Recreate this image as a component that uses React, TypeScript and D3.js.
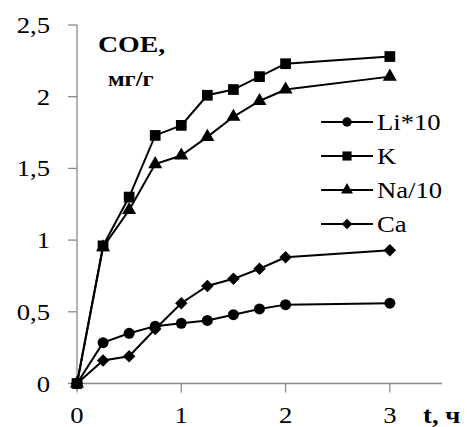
import React from "react";
import * as d3 from "d3";

const times = [0, 0.25, 0.5, 0.75, 1, 1.25, 1.5, 1.75, 2, 3];
const liValues = [0, 0.285, 0.35, 0.4, 0.42, 0.44, 0.48, 0.52, 0.55, 0.56];
const kValues = [0, 0.96, 1.3, 1.73, 1.8, 2.01, 2.05, 2.14, 2.23, 2.28];
const naValues = [0, 0.95, 1.21, 1.53, 1.59, 1.72, 1.86, 1.97, 2.05, 2.14];
const caValues = [0, 0.16, 0.19, 0.38, 0.56, 0.68, 0.73, 0.8, 0.88, 0.93];
const seriesNames = ["Li*10", "K", "Na/10", "Ca"];
const markerTypes = ["circle", "square", "triangle", "diamond"];
const yTicks = [0, 0.5, 1, 1.5, 2, 2.5];
const yTickLabels = ["0", "0,5", "1", "1,5", "2", "2,5"];
const xTicks = [0, 1, 2, 3];
const xTickLabels = ["0", "1", "2", "3"];

const W = 467;
const H = 427;
const SX = 1.16;
const FONT = "'Liberation Serif', 'Times New Roman', Times, 'DejaVu Serif', serif";

function symbolFor(type: string) {
  switch (type) {
    case "circle":
      return { d: d3.symbol(d3.symbolCircle, 95)(), rot: 0 };
    case "square":
      return { d: d3.symbol(d3.symbolSquare, 115)(), rot: 0 };
    case "triangle":
      return { d: d3.symbol(d3.symbolTriangle, 85)(), rot: 0 };
    default:
      return { d: d3.symbol(d3.symbolSquare, 78)(), rot: 45 };
  }
}

function T(props: any) {
  const { x, y, children, anchor, size, weight } = props;
  return (
    <text
      transform={`translate(${x},${y}) scale(${SX},1)`}
      textAnchor={anchor || "start"}
      fontFamily={FONT}
      fontSize={size || 23}
      fontWeight={weight || "normal"}
      fill="#000"
    >
      {children}
    </text>
  );
}

export default function App() {
  const x = d3.scaleLinear().domain([0, 3.5]).range([77, 442]);
  const y = d3.scaleLinear().domain([0, 2.5]).range([383.5, 25]);
  const allSeries = [liValues, kValues, naValues, caValues];
  const line = d3
    .line<number>()
    .x((_, i) => x(times[i]))
    .y((d) => y(d));
  const axisColor = "#8a8a8a";
  const legendY = [122, 156, 190, 224];

  return (
    <svg
      width={W}
      height={H}
      style={{ position: "absolute", left: 0, top: 0, background: "#fff" }}
    >
      <rect width={W} height={H} fill="#fff" />
      <line x1={x(0)} x2={x(0)} y1={y(2.5)} y2={y(0)} stroke={axisColor} strokeWidth={1.3} />
      <line x1={x(0)} x2={x(3.5)} y1={y(0)} y2={y(0)} stroke={axisColor} strokeWidth={1.3} />
      {yTicks.map((t, i) => (
        <g key={"yt" + i}>
          <line x1={x(0) - 9} x2={x(0)} y1={y(t)} y2={y(t)} stroke={axisColor} strokeWidth={1.3} />
          <T x={50} y={y(t) + 8} anchor="end">
            {yTickLabels[i]}
          </T>
        </g>
      ))}
      {xTicks.map((t, i) => (
        <g key={"xt" + i}>
          <line x1={x(t)} x2={x(t)} y1={y(0)} y2={y(0) + 9} stroke={axisColor} strokeWidth={1.3} />
          <T x={x(t)} y={423} anchor="middle">
            {xTickLabels[i]}
          </T>
        </g>
      ))}
      <T x={423} y={423} weight="bold" size={23}>
        t, ч
      </T>
      <T x={98} y={52} weight="bold" size={24}>
        СОЕ,
      </T>
      <T x={108} y={86} weight="bold" size={21}>
        мг/г
      </T>
      {allSeries.map((vals, si) => {
        const sym = symbolFor(markerTypes[si]);
        return (
          <g key={"s" + si}>
            <path d={line(vals) || ""} fill="none" stroke="#000" strokeWidth={2} />
            {vals.map((v, i) => (
              <path
                key={i}
                d={sym.d || ""}
                transform={`translate(${x(times[i])},${y(v)}) rotate(${sym.rot})`}
                fill="#000"
              />
            ))}
          </g>
        );
      })}
      {seriesNames.map((name, i) => {
        const sym = symbolFor(markerTypes[i]);
        return (
          <g key={"lg" + i}>
            <line x1={321} x2={373} y1={legendY[i]} y2={legendY[i]} stroke="#000" strokeWidth={2} />
            <path
              d={sym.d || ""}
              transform={`translate(347,${legendY[i]}) rotate(${sym.rot}) scale(0.85)`}
              fill="#000"
            />
            <T x={377} y={legendY[i] + 8}>
              {name}
            </T>
          </g>
        );
      })}
    </svg>
  );
}
